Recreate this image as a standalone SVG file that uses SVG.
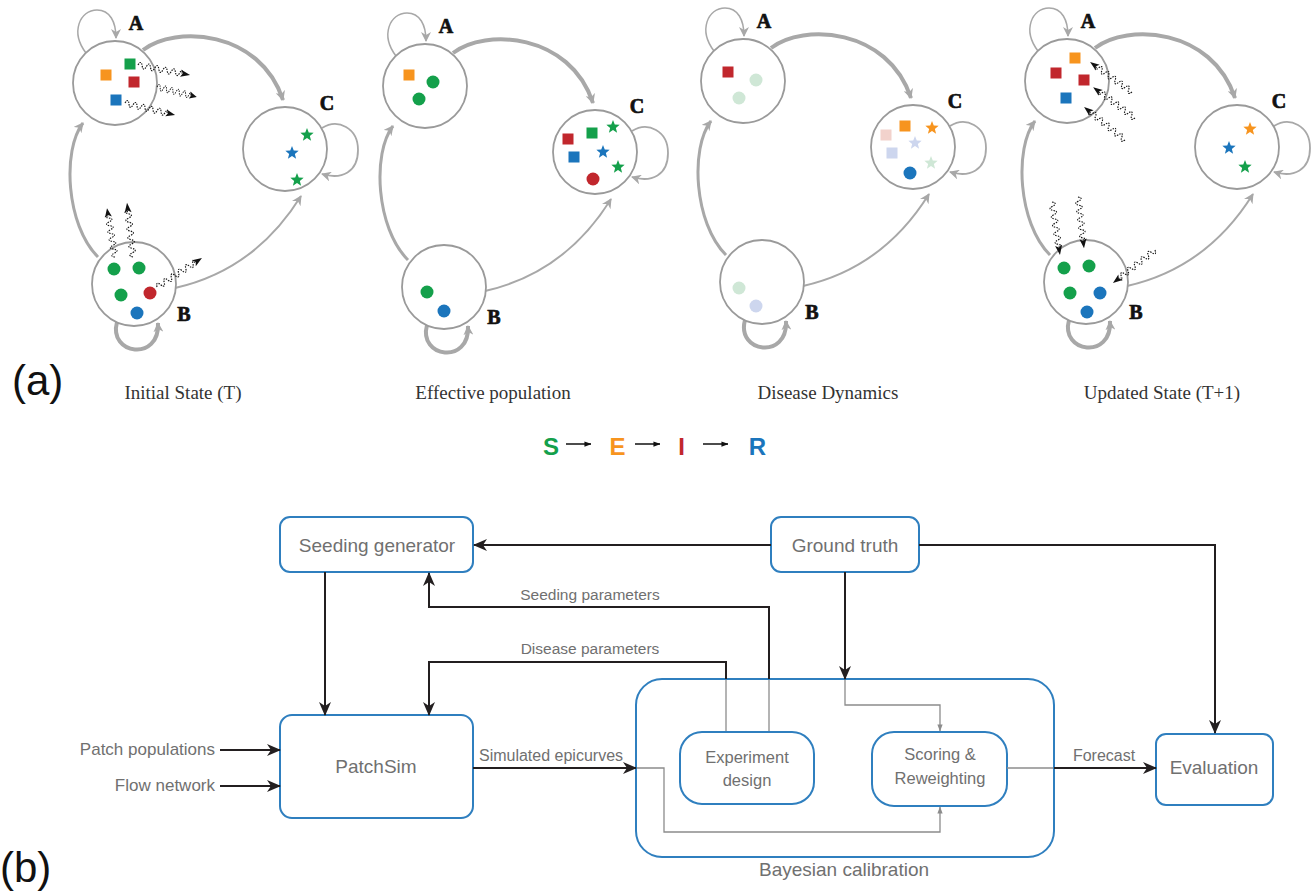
<svg xmlns="http://www.w3.org/2000/svg" xmlns:xlink="http://www.w3.org/1999/xlink" width="1311" height="893" viewBox="0 0 1311 893">
<style>
.cir{fill:#fff;stroke:#9a9a9a;stroke-width:1.8}
.lbl{font-family:"Liberation Serif",serif;font-weight:bold;font-size:20px;fill:#111;stroke:#111;stroke-width:0.7;text-anchor:middle}
.cap{font-family:"Liberation Serif",serif;font-size:19px;fill:#333;text-anchor:middle}
.gl{fill:none;stroke:#a8a8a8}
.box{fill:#fff;stroke:#2f7fbf;stroke-width:2}
.bt{font-family:"Liberation Sans",Arial,sans-serif;fill:#707070;text-anchor:middle}
.bte{font-family:"Liberation Sans",Arial,sans-serif;fill:#707070;text-anchor:end}
.bl{fill:none;stroke:#231f20;stroke-width:2}
.gy{fill:none;stroke:#8c8c8c;stroke-width:1.3}
.og{fill:#f7941e}.gn{fill:#14a04b}.rd{fill:#c1272d}.bu{fill:#1b75bc}
.fg{fill:#cfe7d6}.fb{fill:#cdd6ee}.fp{fill:#f2d2cc}
</style>
<defs>
<marker id="ag" viewBox="0 0 10 10" refX="9" refY="5" markerWidth="10" markerHeight="10" markerUnits="userSpaceOnUse" orient="auto"><path d="M0,0 L10,5 L0,10 L3,5 z" fill="#a8a8a8"/></marker>
<marker id="ab" viewBox="0 0 14 12" refX="13" refY="6" markerWidth="14" markerHeight="12" markerUnits="userSpaceOnUse" orient="auto"><path d="M0,0 L14,6 L0,12 L4,6 z" fill="#231f20"/></marker>
<marker id="as" viewBox="0 0 8 8" refX="7.5" refY="4" markerWidth="7" markerHeight="7" markerUnits="userSpaceOnUse" orient="auto"><path d="M0,1 L8,4 L0,7 z" fill="#8c8c8c"/></marker>
<marker id="ak" viewBox="0 0 8 8" refX="7.5" refY="4" markerWidth="7" markerHeight="7" markerUnits="userSpaceOnUse" orient="auto"><path d="M0,1 L8,4 L0,7 z" fill="#111"/></marker>
<path id="star" d="M0,-7 L1.76,-2.43 L6.66,-2.16 L2.85,0.93 L4.11,5.66 L0,3 L-4.11,5.66 L-2.85,0.93 L-6.66,-2.16 L-1.76,-2.43 z"/>
<g id="sq"><path d="M0,0 q2,-6 4,0 t4,0 t4,0 t4,0 t4,0 t4,0 t4,0 t4,0 t4,0 t4,0 t2,0" fill="none" stroke="#111" stroke-width="1.1" stroke-dasharray="1.5,1"/><path d="M50,0 L41,-3.5 L43,0 L41,3.5 z" fill="#111"/></g>
<g id="skel-con">
<path class="gl" stroke-width="1.5" d="M86,53 C70,32 80,10 97,10 C110,10 116,22 116,38" marker-end="url(#ag)"/>
<path class="gl" stroke-width="4" d="M143,50 C175,25 260,30 283,100" marker-end="url(#ag)"/>
<path class="gl" stroke-width="3" d="M98,257 C66,225 62,150 83,123" marker-end="url(#ag)"/>
<path class="gl" stroke-width="2" d="M175,288 Q255,270 301,196" marker-end="url(#ag)"/>
<path class="gl" stroke-width="1.8" d="M322,128 C338,118 358,128 358,150 C358,172 342,180 322,174" marker-end="url(#ag)"/>
<path class="gl" stroke-width="4" d="M117,322 C108,355 160,362 158,323" marker-end="url(#ag)"/>
</g>
</defs>
<rect width="1311" height="893" fill="#fff"/>

<!-- (a) Panel 1 -->
<g id="panel1">
<use href="#skel-con" id="p1-connectors"/>
<g id="p1-A"><circle class="cir" cx="115" cy="83" r="42"/>
<rect class="og" x="100.5" y="69.5" width="11" height="11"/><rect class="gn" x="124.5" y="58.5" width="11" height="11"/><rect class="rd" x="128.5" y="76.5" width="11" height="11"/><rect class="bu" x="110.5" y="94.5" width="11" height="11"/>
<text class="lbl" x="136" y="30">A</text></g>
<g id="p1-C"><circle class="cir" cx="285" cy="149" r="42"/>
<use href="#star" class="gn" x="307" y="135"/><use href="#star" class="bu" x="292" y="153"/><use href="#star" class="gn" x="297" y="180"/>
<text class="lbl" x="327" y="110">C</text></g>
<g id="p1-B"><circle class="cir" cx="134" cy="284" r="42"/>
<circle class="gn" cx="114" cy="269" r="6.5"/><circle class="gn" cx="139" cy="268" r="6.5"/><circle class="gn" cx="121" cy="295" r="6.5"/><circle class="rd" cx="150" cy="293" r="6.5"/><circle class="bu" cx="137" cy="313" r="6.5"/>
<text class="lbl" x="184" y="321">B</text></g>
<g id="p1-waves">
<use href="#sq" transform="translate(138,65) rotate(10.9) scale(1.06,1)"/>
<use href="#sq" transform="translate(157,87) rotate(14) scale(0.82,1)"/>
<use href="#sq" transform="translate(125,103) rotate(13.5) scale(1.03,1)"/>
<use href="#sq" transform="translate(115,257) rotate(-99.3) scale(0.99,1)"/>
<use href="#sq" transform="translate(133,257) rotate(-96.3) scale(1.09,1)"/>
<use href="#sq" transform="translate(157,287) rotate(-32.8) scale(1.07,1)"/>
</g>
</g>

<!-- (a) Panel 2 -->
<g id="panel2" transform="translate(310,3)">
<use href="#skel-con" id="p2-connectors"/>
<g id="p2-A"><circle class="cir" cx="115" cy="83" r="42"/>
<rect class="og" x="93.5" y="66.5" width="11" height="11"/><circle class="gn" cx="123" cy="79" r="6.5"/><circle class="gn" cx="109" cy="96" r="6.5"/>
<text class="lbl" x="136" y="30">A</text></g>
<g id="p2-C"><circle class="cir" cx="285" cy="149" r="42"/>
<rect class="rd" x="252.5" y="130.5" width="11" height="11"/><rect class="gn" x="276.5" y="124.5" width="11" height="11"/><use href="#star" class="gn" x="303" y="124"/>
<rect class="bu" x="258.5" y="148.5" width="11" height="11"/><use href="#star" class="bu" x="293" y="149"/><use href="#star" class="gn" x="308" y="164"/><circle class="rd" cx="283" cy="176" r="6.5"/>
<text class="lbl" x="327" y="110">C</text></g>
<g id="p2-B"><circle class="cir" cx="134" cy="284" r="42"/>
<circle class="gn" cx="117" cy="289" r="6.5"/><circle class="bu" cx="134" cy="308" r="6.5"/>
<text class="lbl" x="184" y="321">B</text></g>
</g>

<!-- (a) Panel 3 -->
<g id="panel3" transform="translate(628,-2)">
<use href="#skel-con" id="p3-connectors"/>
<g id="p3-A"><circle class="cir" cx="115" cy="83" r="42"/>
<rect class="rd" x="94.5" y="68.5" width="11" height="11"/><circle class="fg" cx="128" cy="82" r="6.5"/><circle class="fg" cx="111" cy="100" r="6.5"/>
<text class="lbl" x="136" y="30">A</text></g>
<g id="p3-C"><circle class="cir" cx="285" cy="149" r="42"/>
<rect class="fp" x="252.5" y="131.5" width="11" height="11"/><rect class="og" x="271.5" y="122.5" width="11" height="11"/><use href="#star" class="og" x="304" y="130"/>
<use href="#star" class="fb" x="287" y="145"/><rect class="fb" x="258.5" y="149.5" width="11" height="11"/><use href="#star" class="fg" x="303" y="165"/><circle class="bu" cx="282" cy="175" r="6.5"/>
<text class="lbl" x="327" y="110">C</text></g>
<g id="p3-B"><circle class="cir" cx="134" cy="284" r="42"/>
<circle class="fg" cx="111" cy="290" r="6.5"/><circle class="fb" cx="128" cy="308" r="6.5"/>
<text class="lbl" x="184" y="321">B</text></g>
</g>

<!-- (a) Panel 4 -->
<g id="panel4" transform="translate(952,-2)">
<use href="#skel-con" id="p4-connectors"/>
<g id="p4-A"><circle class="cir" cx="115" cy="83" r="42"/>
<rect class="og" x="117.5" y="54.5" width="11" height="11"/><rect class="rd" x="98.5" y="69.5" width="11" height="11"/><rect class="rd" x="126.5" y="76.5" width="11" height="11"/><rect class="bu" x="108.5" y="94.5" width="11" height="11"/>
<text class="lbl" x="136" y="30">A</text></g>
<g id="p4-C"><circle class="cir" cx="285" cy="149" r="42"/>
<use href="#star" class="og" x="298" y="131"/><use href="#star" class="bu" x="277" y="150"/><use href="#star" class="gn" x="293" y="169"/>
<text class="lbl" x="327" y="110">C</text></g>
<g id="p4-B"><circle class="cir" cx="134" cy="284" r="42"/>
<circle class="gn" cx="112" cy="270" r="6.5"/><circle class="gn" cx="137" cy="268" r="6.5"/><circle class="gn" cx="118" cy="295" r="6.5"/><circle class="bu" cx="148" cy="295" r="6.5"/><circle class="bu" cx="135" cy="314" r="6.5"/>
<text class="lbl" x="184" y="321">B</text></g>
<g id="p4-waves">
<use href="#sq" transform="translate(180,94) rotate(-144.5) scale(1.03,1)"/>
<use href="#sq" transform="translate(183,120) rotate(-143.6) scale(1.04,1)"/>
<use href="#sq" transform="translate(173,142) rotate(-141.2) scale(1.05,1)"/>
<use href="#sq" transform="translate(100,204) rotate(81.4) scale(1.07,1)"/>
<use href="#sq" transform="translate(126,199) rotate(83.3) scale(1.03,1)"/>
<use href="#sq" transform="translate(203,252) rotate(141.8) scale(1.07,1)"/>
</g>
</g>

<g id="captions-a">
<text x="12" y="395" font-family="Liberation Sans,Arial,sans-serif" font-size="42" fill="#111">(a)</text>
<text class="cap" x="183" y="399">Initial State (T)</text>
<text class="cap" x="493" y="399">Effective population</text>
<text class="cap" x="828" y="399">Disease Dynamics</text>
<text class="cap" x="1162" y="399">Updated State (T+1)</text>
</g>

<g id="legend-seir" font-family="Liberation Sans,Arial,sans-serif" font-weight="bold" font-size="24" text-anchor="middle">
<text x="551" y="455" fill="#14a04b">S</text>
<text x="617.5" y="455" fill="#f7941e">E</text>
<text x="681.5" y="455" fill="#c1272d">I</text>
<text x="757.5" y="455" fill="#1b75bc">R</text>
<path d="M566,444 H591" stroke="#111" stroke-width="1.5" fill="none" marker-end="url(#ak)"/>
<path d="M635,444 H660" stroke="#111" stroke-width="1.5" fill="none" marker-end="url(#ak)"/>
<path d="M703,444 H728" stroke="#111" stroke-width="1.5" fill="none" marker-end="url(#ak)"/>
</g>

<!-- (b) -->
<text x="0" y="882" font-family="Liberation Sans,Arial,sans-serif" font-size="42" fill="#111">(b)</text>

<g id="bayesian"><rect class="box" x="636" y="679" width="418" height="178" rx="26"/>
<text class="bt" font-size="19" x="844" y="876">Bayesian calibration</text></g>
<g id="seeding"><rect class="box" x="280" y="517" width="193" height="55" rx="10"/>
<text class="bt" font-size="19" x="377" y="552">Seeding generator</text></g>
<g id="ground"><rect class="box" x="771" y="517" width="148" height="55" rx="10"/>
<text class="bt" font-size="19" x="845" y="552">Ground truth</text></g>
<g id="patchsim"><rect class="box" x="280" y="715" width="193" height="103" rx="12"/>
<text class="bt" font-size="19" x="376" y="773">PatchSim</text></g>
<g id="experiment"><rect class="box" x="680" y="732" width="134" height="72" rx="22"/>
<text class="bt" font-size="16.5" x="747" y="763">Experiment</text><text class="bt" font-size="16.5" x="747" y="786">design</text></g>
<g id="scoring"><rect class="box" x="872" y="732" width="135" height="74" rx="22"/>
<text class="bt" font-size="16.5" x="940" y="760">Scoring &amp;</text><text class="bt" font-size="16.5" x="940" y="784">Reweighting</text></g>
<g id="evaluation"><rect class="box" x="1156" y="734" width="117" height="71" rx="10"/>
<text class="bt" font-size="19" x="1214" y="774">Evaluation</text></g>

<g id="connectors-b">
<path class="bl" d="M771,545 L474,545" marker-end="url(#ab)"/>
<path class="bl" d="M919,545 L1215,545 L1215,733" marker-end="url(#ab)"/>
<path class="bl" d="M845,572 L845,679" marker-end="url(#ab)"/>
<path class="gy" d="M845,680 L845,705 L940,705 L940,731" marker-end="url(#as)"/>
<path class="bl" d="M325,572 L325,715" marker-end="url(#ab)"/>
<path class="gy" d="M769,731 L769,680"/>
<path class="bl" d="M769,679 L769,607 L429,607 L429,573" marker-end="url(#ab)"/>
<path class="gy" d="M726,731 L726,680"/>
<path class="bl" d="M726,679 L726,662 L429,662 L429,715" marker-end="url(#ab)"/>
<path class="bl" d="M220,750 L280,750" marker-end="url(#ab)"/>
<path class="bl" d="M220,786 L280,786" marker-end="url(#ab)"/>
<path class="bl" d="M473,768 L636,768" marker-end="url(#ab)"/>
<path class="gy" d="M637,768 L664,768 L664,832 L940,832 L940,807" marker-end="url(#as)"/>
<path class="gy" d="M1007,768 L1053,768"/>
<path class="bl" d="M1054,768 L1156,768" marker-end="url(#ab)"/>
<text class="bt" font-size="15.5" x="590" y="600">Seeding parameters</text>
<text class="bt" font-size="15.5" x="590" y="654">Disease parameters</text>
<text class="bt" font-size="16" x="551" y="761">Simulated epicurves</text>
<text class="bt" font-size="16" x="1104" y="761">Forecast</text>
<text class="bte" font-size="17" x="215" y="755">Patch populations</text>
<text class="bte" font-size="17" x="215" y="791">Flow network</text>
</g>
</svg>
